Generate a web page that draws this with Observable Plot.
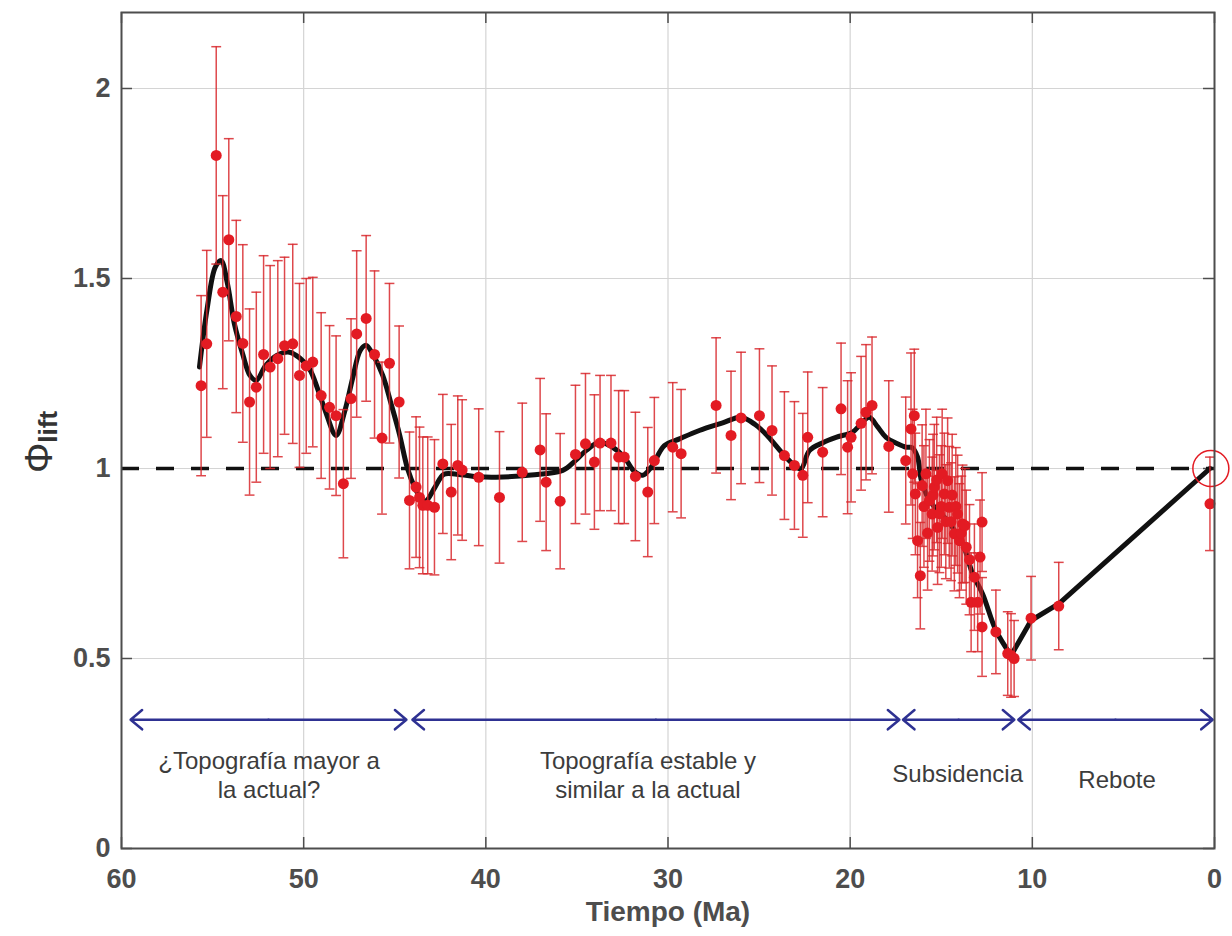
<!DOCTYPE html>
<html>
<head>
<meta charset="utf-8">
<script src="https://cdn.jsdelivr.net/npm/d3@7"></script>
<script src="https://cdn.jsdelivr.net/npm/@observablehq/plot@0.6"></script>
<style>
  html, body { margin: 0; padding: 0; background: #fff; }
</style>
</head>
<body>
<div id="chart"></div>
<script>
// ---- axis ticks ----
const xTicks = [60, 50, 40, 30, 20, 10, 0];
const yTicks = [0, 0.5, 1, 1.5, 2];
const yTickLabels = ["0", "0.5", "1", "1.5", "2"];
const xGrid = [50, 40, 30, 20, 10];
const yGrid = [0.5, 1, 1.5, 2];

// ---- data points (time Ma, Phi_lift, half error) ----
const ptT = [55.63,55.32,54.80,54.44,54.11,53.70,53.34,52.97,52.60,52.20,51.84,51.42,51.05,50.60,50.23,49.86,49.50,49.04,48.58,48.22,47.82,47.40,47.09,46.57,46.11,45.70,45.29,44.76,
  44.19,43.83,43.64,43.46,43.19,42.82,42.36,41.90,41.54,41.30,40.39,39.25,38.00,37.02,36.69,35.92,35.08,34.53,34.04,33.73,33.13,32.71,32.40,31.79,31.11,30.75,29.74,29.28,
  27.36,26.54,25.99,24.98,24.29,23.61,23.06,22.60,22.33,21.51,20.50,20.14,19.95,19.40,19.13,18.80,17.88,16.95,16.66,16.48,
  16.57,16.42,16.30,16.15,16.05,15.95,15.84,15.75,15.65,15.50,15.45,15.38,15.25,15.20,15.10,15.00,14.95,14.83,14.75,14.65,14.56,14.46,14.40,14.28,14.20,14.10,14.00,13.90,13.83,13.70,13.63,13.45,13.36,13.18,13.00,12.87,12.76,12.76,
  12.00,11.35,11.17,11.00,10.07,8.55,0.25];
const ptV = [1.218,1.328,1.824,1.464,1.602,1.400,1.329,1.175,1.214,1.300,1.267,1.289,1.323,1.328,1.245,1.270,1.280,1.192,1.161,1.139,0.960,1.184,1.354,1.395,1.300,1.080,1.277,1.175,
  0.916,0.951,0.924,0.903,0.903,0.898,1.012,0.938,1.008,0.996,0.977,0.924,0.990,1.049,0.964,0.914,1.037,1.065,1.017,1.067,1.067,1.030,1.030,0.979,0.938,1.021,1.056,1.039,
  1.166,1.087,1.133,1.139,1.100,1.034,1.008,0.982,1.082,1.043,1.157,1.056,1.082,1.119,1.148,1.166,1.058,1.021,1.104,1.139,
  0.986,0.933,0.810,0.718,0.955,0.900,0.986,0.830,0.916,0.880,0.930,0.951,0.970,0.845,0.881,0.900,0.986,0.933,0.860,0.968,0.898,0.860,0.930,0.828,0.900,0.880,0.810,0.830,0.854,0.850,0.793,0.760,0.648,0.714,0.648,0.767,0.859,0.583,
  0.570,0.513,0.508,0.500,0.606,0.638,0.907];
const ptE = [0.237,0.246,0.286,0.254,0.266,0.253,0.260,0.245,0.250,0.260,0.267,0.258,0.233,0.262,0.242,0.230,0.223,0.218,0.215,0.210,0.195,0.210,0.219,0.218,0.220,0.200,0.210,0.200,
  0.180,0.185,0.185,0.180,0.180,0.178,0.183,0.178,0.183,0.185,0.180,0.173,0.182,0.188,0.180,0.178,0.182,0.185,0.177,0.178,0.178,0.175,0.175,0.169,0.170,0.166,0.170,0.169,
  0.178,0.169,0.173,0.176,0.170,0.168,0.168,0.163,0.172,0.170,0.173,0.175,0.170,0.176,0.178,0.180,0.173,0.167,0.200,0.175,
  0.170,0.160,0.150,0.140,0.160,0.160,0.170,0.150,0.160,0.150,0.160,0.165,0.165,0.150,0.155,0.160,0.170,0.160,0.150,0.165,0.160,0.155,0.160,0.150,0.155,0.155,0.150,0.150,0.155,0.150,0.150,0.145,0.130,0.140,0.130,0.150,0.130,0.130,
  0.110,0.110,0.110,0.100,0.110,0.115,0.123];

// ---- smoothed trend (black line) ----
const curveT = [55.72,55.30,54.85,54.53,54.20,53.80,53.34,52.95,52.60,52.10,51.50,50.78,50.20,49.68,49.20,48.80,48.22,47.75,47.30,46.90,46.57,46.20,45.66,45.20,44.74,44.30,43.90,43.50,43.28,42.80,42.30,41.60,40.40,39.43,37.50,35.78,35.10,34.50,33.77,33.04,32.40,31.90,31.39,30.90,30.20,29.37,28.28,27.00,25.99,25.20,24.62,23.70,23.10,22.70,22.24,21.50,20.78,19.86,19.40,18.95,18.50,18.03,17.40,16.93,16.60,16.30,16.10,15.80,15.40,15.00,14.60,14.18,13.80,13.28,12.73,12.00,11.17];
const curveV = [1.267,1.420,1.530,1.547,1.490,1.380,1.300,1.245,1.232,1.270,1.297,1.306,1.290,1.262,1.205,1.150,1.087,1.150,1.240,1.310,1.324,1.300,1.245,1.170,1.090,1.000,0.950,0.917,0.915,0.950,0.985,0.985,0.978,0.977,0.983,0.995,1.020,1.047,1.069,1.056,1.030,0.995,0.982,1.005,1.060,1.078,1.100,1.120,1.135,1.115,1.090,1.039,1.010,0.999,1.047,1.068,1.082,1.096,1.118,1.135,1.110,1.082,1.065,1.056,1.055,1.030,0.970,0.930,0.900,0.880,0.860,0.830,0.800,0.723,0.670,0.574,0.508];
const straightT = [11.17, 10.07, 8.52, 0.25];
const straightV = [0.508, 0.600, 0.645, 1.000];

// ---- reference marks ----
const refLevel = [1];
const refCircleT = [0.2];
const refCircleV = [1.0];

// ---- phases ----
const phaseStart = [59.5, 44.03, 17.1, 10.77];
const phaseEnd = [44.36, 17.3, 10.99, 0.1];
const phaseLevel = [0.339, 0.339, 0.339, 0.339];
const phaseLabels = ["¿Topografía mayor a\nla actual?", "Topografía estable y\nsimilar a la actual", "Subsidencia", "Rebote"];
const labelT = [51.9, 31.1, 14.1, 5.35];
const labelV = [0.195, 0.195, 0.200, 0.184];

const xLabel = "Tiempo (Ma)";

// ---- tables ----
const points = ptT.map((t, i) => ({t, v: ptV[i], lo: ptV[i] - ptE[i], hi: ptV[i] + ptE[i]}));
const curve = curveT.map((t, i) => ({t, v: curveV[i]}));
const straight = straightT.map((t, i) => ({t, v: straightV[i]}));
const circle = refCircleT.map((t, i) => ({t, v: refCircleV[i]}));
const arrows = [];
phaseStart.forEach((s, i) => {
  const m = (s + phaseEnd[i]) / 2;
  arrows.push({m, tip: s, y: phaseLevel[i]});
  arrows.push({m, tip: phaseEnd[i], y: phaseLevel[i]});
});
const labels = phaseLabels.map((text, i) => ({text, t: labelT[i], v: labelV[i]}));

const W = 1232, H = 936;
const mL = 121, mR = 18, mT = 12, mB = 88;
const fW = W - mL - mR, fH = H - mT - mB;
const capHalf = 0.27;
const red = "#e31b23";
const barRed = "#d8282d";
const axisGray = "#4d4d4d";
const font = "'Liberation Sans', Arial, Helvetica, sans-serif";

const svg = Plot.plot({
  width: W,
  height: H,
  marginLeft: mL,
  marginRight: mR,
  marginTop: mT,
  marginBottom: mB,
  style: {fontFamily: font, fontSize: "27px", fontWeight: "bold", color: axisGray, background: "#fff"},
  x: {domain: [60, 0], ticks: xTicks},
  y: {domain: [0, 2.2], ticks: yTicks},
  marks: [
    Plot.ruleX(xGrid, {stroke: "#d4d4d4", strokeWidth: 1.2}),
    Plot.ruleY(yGrid, {stroke: "#d4d4d4", strokeWidth: 1.2}),
    // inner ticks (MATLAB style, all four sides)
    Plot.ruleX(xTicks, {insetTop: fH - 11, stroke: axisGray, strokeWidth: 1.5}),
    Plot.ruleX(xTicks, {insetBottom: fH - 11, stroke: axisGray, strokeWidth: 1.5}),
    Plot.ruleY(yTicks, {insetRight: fW - 11, stroke: axisGray, strokeWidth: 1.5}),
    Plot.ruleY(yTicks, {insetLeft: fW - 11, stroke: axisGray, strokeWidth: 1.5}),
    Plot.axisX({ticks: xTicks, tickSize: 0, tickPadding: 20, fontSize: 27, fontWeight: "bold", fill: axisGray, label: null}),
    Plot.axisY({ticks: yTicks, tickSize: 0, tickPadding: 11, tickFormat: (d, i) => yTickLabels[i], fontSize: 27, fontWeight: "bold", fill: axisGray, label: null}),
    // dashed reference
    Plot.ruleY(refLevel, {stroke: "#111", strokeWidth: 3.5, strokeDasharray: "18,17"}),
    // trend line
    Plot.line(curve, {x: "t", y: "v", curve: "catmull-rom", stroke: "#111", strokeWidth: 5}),
    Plot.line(straight, {x: "t", y: "v", curve: "linear", stroke: "#111", strokeWidth: 5}),
    // error bars
    Plot.ruleX(points, {x: "t", y1: "lo", y2: "hi", stroke: barRed, strokeWidth: 1.5, strokeOpacity: 0.85}),
    Plot.link(points, {x1: d => d.t + capHalf, x2: d => d.t - capHalf, y1: "lo", y2: "lo", stroke: barRed, strokeWidth: 1.5, strokeOpacity: 0.85}),
    Plot.link(points, {x1: d => d.t + capHalf, x2: d => d.t - capHalf, y1: "hi", y2: "hi", stroke: barRed, strokeWidth: 1.5, strokeOpacity: 0.85}),
    // points
    Plot.dot(points, {x: "t", y: "v", r: 5.5, fill: red, stroke: "none"}),
    Plot.dot(circle, {x: "t", y: "v", r: 18, fill: "none", stroke: red, strokeWidth: 1.5}),
    // phase arrows
    Plot.arrow(arrows, {x1: "m", y1: "y", x2: "tip", y2: "y", stroke: "#2e3192", strokeWidth: 2.5, headLength: 9, headAngle: 80}),
    Plot.text(labels, {x: "t", y: "v", text: "text", fontSize: 24, fontWeight: "normal", fill: "#3c3c3c", lineHeight: 1.2, textAnchor: "middle"}),
    Plot.text([xLabel], {frameAnchor: "bottom", dy: 72, text: d => d, fontSize: 28, fontWeight: "bold", fill: axisGray}),
    Plot.frame({stroke: axisGray, strokeWidth: 2})
  ]
});

// y-axis label with subscript
const lab = d3.select(svg).append("text")
  .attr("transform", "translate(52,442) rotate(-90)")
  .attr("text-anchor", "middle")
  .attr("fill", "#333")
  .attr("font-family", font);
lab.append("tspan").attr("font-size", 38).attr("font-weight", "normal").text("Φ");
lab.append("tspan").attr("font-size", 26).attr("font-weight", "bold").attr("dy", 5).text("lift");

document.getElementById("chart").appendChild(svg);
</script>
</body>
</html>
